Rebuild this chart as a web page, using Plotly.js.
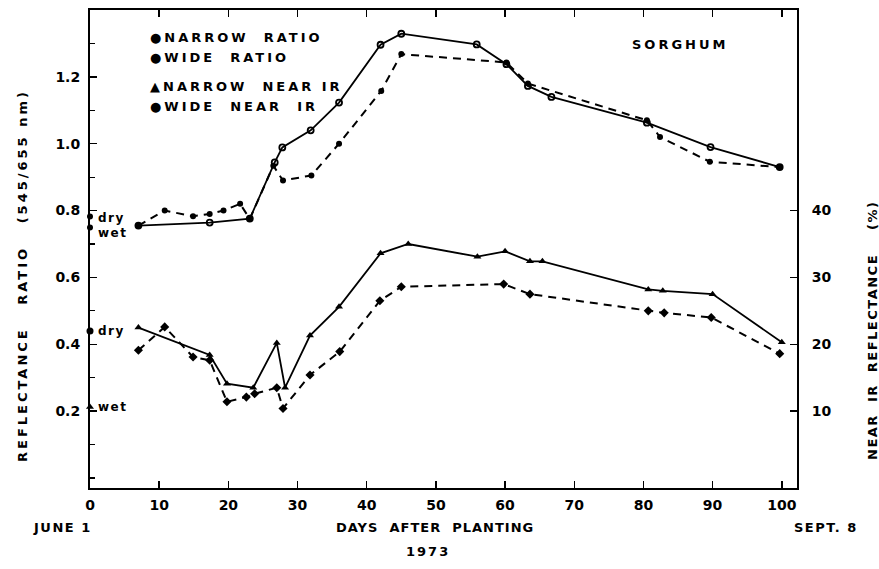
<!DOCTYPE html>
<html>
<head>
<meta charset="utf-8">
<script src="https://cdn.plot.ly/plotly-3.0.1.min.js"></script>
<style>
  html, body { margin: 0; padding: 0; background: #fff; }
  #chart { width: 879px; height: 569px; }
</style>
</head>
<body>
<div id="chart"></div>
<script>
// Sorghum, 1973: reflectance ratio (545/655 nm) and near-IR reflectance
// from narrow- and wide-band sensors, by days after planting.

const narrowRatioDays = [7, 17.3, 23.1, 26.7, 27.8, 31.9, 36, 42, 45, 55.9, 60.2, 63.3, 66.7, 80.5, 89.7, 99.7];
const narrowRatio     = [0.755, 0.764, 0.776, 0.944, 0.989, 1.04, 1.123, 1.296, 1.329, 1.297, 1.238, 1.173, 1.14, 1.063, 0.99, 0.93];

const wideRatioDays = [7, 10.8, 14.9, 17.3, 19.3, 21.7, 23.1, 26.5, 27.9, 32, 36, 42.1, 45, 60.2, 63.3, 80.5, 82.4, 89.6, 99.7];
const wideRatio     = [0.755, 0.80, 0.783, 0.79, 0.80, 0.82, 0.775, 0.934, 0.89, 0.905, 1.0, 1.158, 1.268, 1.243, 1.18, 1.07, 1.02, 0.946, 0.93];

const narrowIRDays = [7, 17.3, 19.8, 23.6, 27, 28.2, 31.8, 36, 42, 46, 56, 60, 63.6, 65.4, 80.7, 82.8, 90, 100];
const narrowIR     = [22.5, 18.4, 14.1, 13.5, 20.2, 13.5, 21.3, 25.6, 33.6, 35.0, 33.1, 33.9, 32.4, 32.4, 28.2, 28.0, 27.5, 20.3];

const wideIRDays = [7, 10.8, 14.9, 17.3, 19.8, 22.6, 23.8, 27, 27.9, 31.8, 36.1, 41.9, 45, 59.8, 63.6, 80.7, 83, 89.8, 99.7];
const wideIR     = [19.1, 22.6, 18.1, 17.6, 11.4, 12.1, 12.6, 13.5, 10.4, 15.4, 18.9, 26.5, 28.6, 29.0, 27.5, 25.0, 24.7, 24.0, 18.6];

// bare-soil reference values at day 0
const soilLabels   = ['dry', 'wet'];
const soilRatio    = [0.782, 0.749];
const soilIR       = [22.0, 10.6];

const dayTicks = [0, 10, 20, 30, 40, 50, 60, 70, 80, 90, 100];
const ratioTicks = [0.2, 0.4, 0.6, 0.8, 1.0, 1.2];
const irTicks = [10, 20, 30, 40];

const legendItems = ['\u25CFNARROW  RATIO', '\u25CFWIDE  RATIO', '\u25B2NARROW  NEAR IR', '\u25CFWIDE  NEAR  IR'];

const FONT = 'DejaVu Sans, Arial, sans-serif';
const INK = '#000';
const sp = (t, px) => '<span style="letter-spacing:' + px + 'px">' + t + '</span>';

const traces = [
  { x: narrowRatioDays, y: narrowRatio, yaxis: 'y', mode: 'lines+markers',
    line: { color: INK, width: 1.8 },
    marker: { symbol: 'circle-open', size: 6, color: INK, line: { width: 1.8, color: INK } } },
  { x: wideRatioDays, y: wideRatio, yaxis: 'y', mode: 'lines+markers',
    line: { color: INK, width: 2, dash: '8px,6px' },
    marker: { symbol: 'circle', size: 6, color: INK } },
  { x: narrowIRDays, y: narrowIR, yaxis: 'y2', mode: 'lines+markers',
    line: { color: INK, width: 1.8 },
    marker: { symbol: 'triangle-up', size: 7, color: INK } },
  { x: wideIRDays, y: wideIR, yaxis: 'y2', mode: 'lines+markers',
    line: { color: INK, width: 2, dash: '8px,6px' },
    marker: { symbol: 'diamond', size: 7, color: INK } },
  { x: [0, 0], y: soilRatio, yaxis: 'y', mode: 'markers', cliponaxis: false,
    marker: { symbol: 'circle', size: 6, color: INK } },
  { x: [0, 0], y: soilIR, yaxis: 'y2', mode: 'markers', cliponaxis: false,
    marker: { symbol: ['circle', 'triangle-up'], size: 7, color: INK } }
];

const annotations = [];
const smallFont = { family: FONT, size: 13, color: INK, weight: 'bold' };
const soilFont = { family: FONT, size: 12, color: INK, weight: 'bold' };

// soil labels beside the day-0 markers
soilLabels.forEach((lab, i) => {
  annotations.push({ x: 0, y: soilRatio[i], xref: 'x', yref: 'y', text: sp(lab, 1.5),
    showarrow: false, xanchor: 'left', yanchor: 'middle', xshift: 6, yshift: i === 0 ? -1 : -5,
    font: soilFont });
  annotations.push({ x: 0, y: soilIR[i], xref: 'x', yref: 'y2', text: sp(lab, 1.5),
    showarrow: false, xanchor: 'left', yanchor: 'middle', xshift: 6,
    font: soilFont });
});

// key in the upper-left corner
const legendY = [0.9435, 0.8996, 0.841, 0.799];
legendItems.forEach((t, i) => {
  annotations.push({ x: 0.082, y: legendY[i], xref: 'paper', yref: 'paper', text: sp(t, 3),
    showarrow: false, xanchor: 'left', yanchor: 'middle', font: smallFont });
});

const labelFont = { family: FONT, size: 13, color: INK, weight: 'bold' };
const note = (x, y, text, extra) => Object.assign({ x: x, y: y, xref: 'paper', yref: 'paper', text: text,
  showarrow: false, xanchor: 'center', yanchor: 'middle', font: labelFont }, extra || {});

annotations.push(
  note(0.8345, 0.9268, sp('SORGHUM', 3)),
  note(-0.0396, -0.0816, sp('JUNE 1', 1.5)),
  note(0.488, -0.0816, sp('DAYS  AFTER  PLANTING', 1)),
  note(1.041, -0.0816, sp('SEPT. 8', 1.5)),
  note(0.478, -0.1318, sp('1973', 2)),
  note(-0.0962, 0.4456, sp('REFLECTANCE   RATIO   (545/655 nm)', 3), { textangle: -90 }),
  note(1.106, 0.3305, sp('NEAR  IR  REFLECTANCE    (%)', 1.5), { textangle: -90 })
);

const tickFont = { family: FONT, size: 14, color: INK, weight: 'bold' };

const layout = {
  width: 879, height: 569,
  margin: { l: 90, r: 82, t: 10, b: 81 },
  paper_bgcolor: '#fff', plot_bgcolor: '#fff',
  showlegend: false,
  xaxis: {
    range: [0, 102.2], tickvals: dayTicks, ticks: 'inside', ticklen: 7, tickwidth: 1.5,
    tickcolor: INK, showline: true, linewidth: 2, linecolor: INK, mirror: 'ticks',
    showgrid: false, zeroline: false, tickfont: tickFont, ticklabelstandoff: 3
  },
  yaxis: {
    range: [-0.03, 1.4], tickvals: ratioTicks, tickformat: '.1f', ticks: 'inside', ticklen: 7,
    tickwidth: 1.5, tickcolor: INK, showline: true, linewidth: 2, linecolor: INK,
    showgrid: false, zeroline: false, tickfont: tickFont, ticklabelstandoff: 5,
    minor: { dtick: 0.1, tick0: 0, ticks: 'inside', ticklen: 5, tickwidth: 1.2, tickcolor: INK, showgrid: false }
  },
  yaxis2: {
    range: [-1.5, 70], overlaying: 'y', side: 'right', tickvals: irTicks, ticks: 'inside',
    ticklen: 7, tickwidth: 1.5, tickcolor: INK, showline: true, linewidth: 2, linecolor: INK,
    showgrid: false, zeroline: false, tickfont: tickFont, ticklabelstandoff: 10
  },
  annotations: annotations
};

Plotly.newPlot('chart', traces, layout, { displayModeBar: false, staticPlot: true });
</script>
</body>
</html>
